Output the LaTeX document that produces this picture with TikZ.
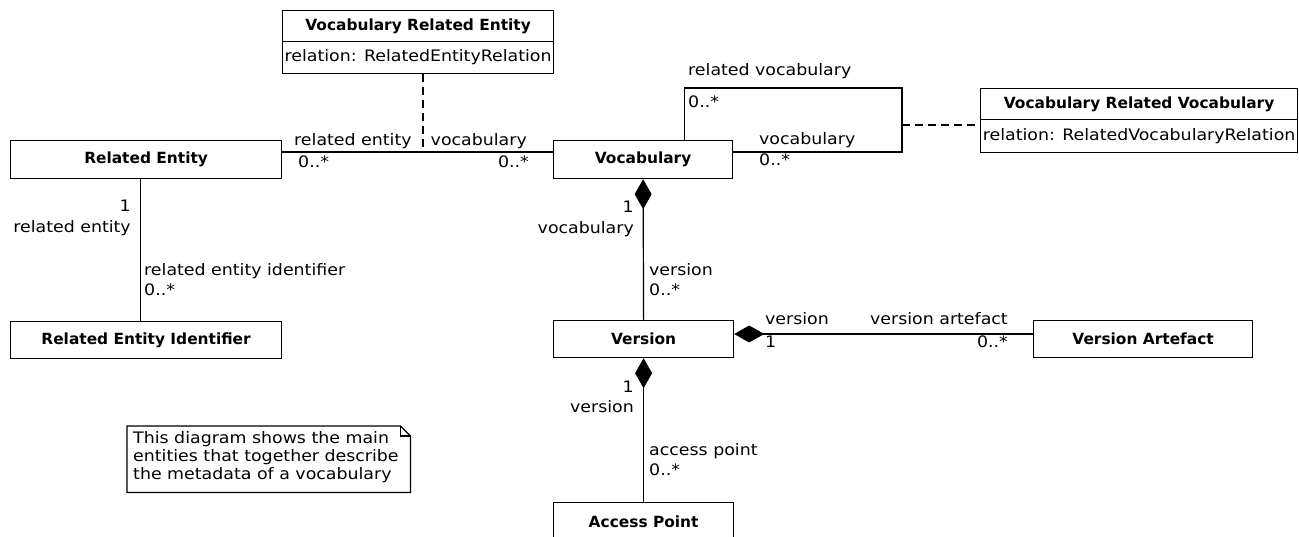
\documentclass[tikz,border=0pt]{standalone}
\usepackage{fontspec}
\usetikzlibrary{arrows.meta}
\newfontfamily\lblf{DejaVu Sans}[FakeStretch=1.1]
\newfontfamily\hdrf{DejaVu Sans}
\begin{document}
\begin{tikzpicture}[x=1pt,y=-1pt,
  box/.style={draw, line width=1.2pt, inner sep=0pt, anchor=north west},
  cls/.style={box, font=\hdrf\bfseries\fontsize{15.4}{18}\selectfont},
  attr/.style={box, font=\lblf\fontsize{15.8}{18}\selectfont},
  lbl/.style={inner sep=0pt, font=\lblf\fontsize{15.8}{18}\selectfont},
  assoc/.style={line width=1.2pt},
  dep/.style={line width=1.2pt, dash pattern=on 8pt off 5pt},
  comp/.style={line width=1.2pt, {Diamond[length=30pt,width=17pt]}-}]
\clip (0,0) rectangle (1299,537);
% classes
\node[cls, minimum width=271pt, minimum height=38pt] (re) at (10,140) {Related Entity};
\node[cls, minimum width=271pt, minimum height=31pt] (vre) at (282,10) {Vocabulary Related Entity};
\node[attr, minimum width=271pt, minimum height=32pt] (vrea) at (282,41) {relation: RelatedEntityRelation};
\node[cls, minimum width=179pt, minimum height=38pt] (voc) at (553,140) {Vocabulary};
\node[cls, minimum width=317pt, minimum height=31pt] (vrv) at (980,88) {Vocabulary Related Vocabulary};
\node[attr, minimum width=317pt, minimum height=33pt] (vrva) at (980,119) {relation: RelatedVocabularyRelation};
\node[cls, minimum width=271pt, minimum height=37pt] (rei) at (10,321) {Related Entity Identifier};
\node[cls, minimum width=180pt, minimum height=37pt] (ver) at (553,320) {Version};
\node[cls, minimum width=219pt, minimum height=37pt] (va) at (1033,320) {Version Artefact};
\node[cls, minimum width=180pt, minimum height=38pt] (ap) at (553,502) {Access Point};
% junction points
\coordinate (j1) at (423,152);
\coordinate (lp) at (902,88);
\coordinate (j2) at (902,125);
% connectors
\draw[assoc] ([yshift=-12pt]re.north east) -- ([yshift=-12pt]voc.north west);
\draw[dep] (vrea.south -| j1) -- (j1);
\draw[assoc] ([xshift=-49pt]voc.north east) |- (lp) |- ([yshift=-12pt]voc.north east);
\draw[dep] (j2) -- (vrva.west |- j2);
\draw[assoc] ([xshift=-6pt]re.south) -- ([xshift=-6pt]rei.north);
\draw[comp] (voc.south) -- (ver.north);
\draw[comp] ([yshift=-14pt]ver.north east) -- ([yshift=-14pt]va.north west);
\draw[comp] (ver.south) -- (ap.north);
% labels
\node[lbl, anchor=mid west] (l1) at (294,143) {related entity};
\node[lbl, anchor=mid west] (l2) at (298,165) {0..*};
\node[lbl, anchor=mid east] (l3) at (527,143) {vocabulary};
\node[lbl, anchor=mid east] (l4) at (529,165) {0..*};
\node[lbl, anchor=mid west] (l5) at (688,73) {related vocabulary};
\node[lbl, anchor=mid west] (l6) at (688,105) {0..*};
\node[lbl, anchor=mid west] (l7) at (759,142) {vocabulary};
\node[lbl, anchor=mid west] (l8) at (759,163) {0..*};
\node[lbl, anchor=mid east] (l9) at (131,209) {1};
\node[lbl, anchor=mid east] (l10) at (131,230) {related entity};
\node[lbl, anchor=mid west] (l11) at (144,273) {related entity identifier};
\node[lbl, anchor=mid west] (l12) at (144,293) {0..*};
\node[lbl, anchor=mid east] (l13) at (634,210) {1};
\node[lbl, anchor=mid east] (l14) at (634,231) {vocabulary};
\node[lbl, anchor=mid west] (l15) at (649,273) {version};
\node[lbl, anchor=mid west] (l16) at (649,293) {0..*};
\node[lbl, anchor=mid west] (l17) at (765,322) {version};
\node[lbl, anchor=mid west] (l18) at (765,345) {1};
\node[lbl, anchor=mid east] (l19) at (1008,322) {version artefact};
\node[lbl, anchor=mid east] (l20) at (1008,345) {0..*};
\node[lbl, anchor=mid east] (l21) at (634,390) {1};
\node[lbl, anchor=mid east] (l22) at (634,410) {version};
\node[lbl, anchor=mid west] (l23) at (649,453) {access point};
\node[lbl, anchor=mid west] (l24) at (649,473) {0..*};
% note
\node[inner sep=0pt, anchor=north west, minimum width=283pt, minimum height=66pt] (note) at (127,426) {};
\draw[line width=1.2pt] (note.north west) -- ([xshift=-10pt]note.north east) -- ([yshift=-10pt]note.north east) -- (note.south east) -- (note.south west) -- cycle;
\draw[line width=1.2pt] ([xshift=-10pt]note.north east) |- ([yshift=-10pt]note.north east);
\node[lbl, anchor=mid west] (n1) at (133,441) {This diagram shows the main};
\node[lbl, anchor=mid west] (n2) at (133,459) {entities that together describe};
\node[lbl, anchor=mid west] (n3) at (133,477) {the metadata of a vocabulary};
\end{tikzpicture}
\end{document}
